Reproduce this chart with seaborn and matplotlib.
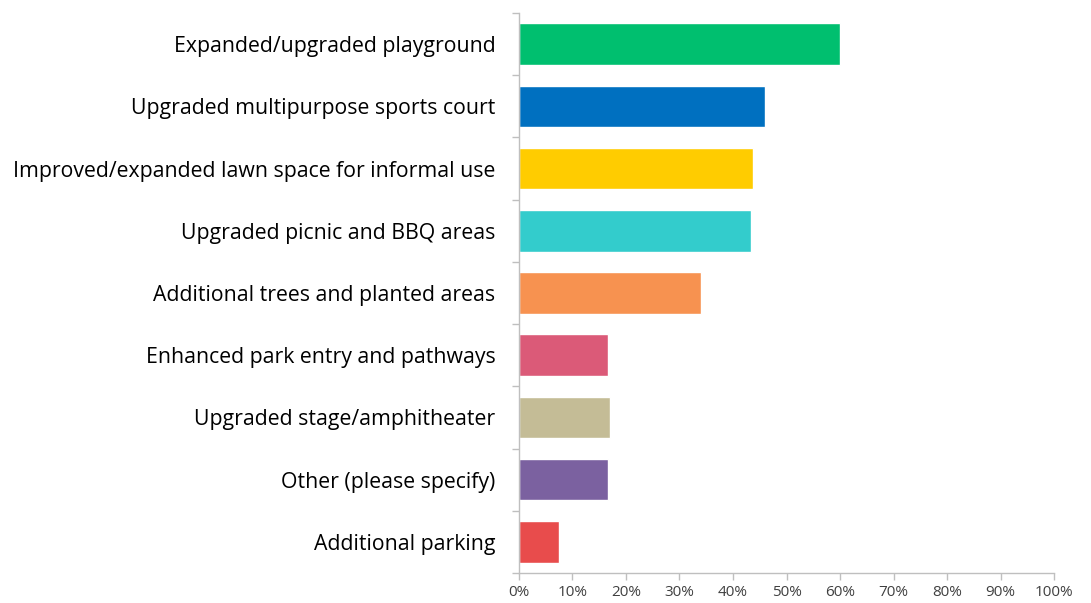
import matplotlib
matplotlib.use("Agg")
import matplotlib.pyplot as plt
from matplotlib.ticker import FixedLocator, PercentFormatter
import seaborn as sns
import pandas as pd

categories = [
    "Expanded/upgraded playground",
    "Upgraded multipurpose sports court",
    "Improved/expanded lawn space for informal use",
    "Upgraded picnic and BBQ areas",
    "Additional trees and planted areas",
    "Enhanced park entry and pathways",
    "Upgraded stage/amphitheater",
    "Other (please specify)",
    "Additional parking",
]
shares = [60.0, 46.0, 43.8, 43.3, 34.1, 16.6, 17.0, 16.6, 7.4]
colors = ["#00BF6F", "#0070C0", "#FFCC00", "#33CCCC", "#F79250",
          "#DB5A78", "#C4BC96", "#7B61A0", "#E84C4C"]
x_ticks = list(range(0, 101, 10))

df = pd.DataFrame({"option": categories, "share": shares})

sns.set_theme(style="white")
plt.rcParams["font.family"] = ["Open Sans", "DejaVu Sans"]

fig = plt.figure(figsize=(10.91, 6.03), dpi=100)
ax = fig.add_axes([0.4757, 0.0498, 0.4904, 0.9286])

sns.barplot(data=df, y="option", x="share", hue="option", palette=colors,
            order=categories, hue_order=categories, width=0.67,
            legend=False, ax=ax, saturation=1)

ax.set_xlim(0, 100)
ax.set_ylim(len(categories) - 0.5, -0.5)
ax.set_xlabel("")
ax.set_ylabel("")

ax.set_xticks(x_ticks)
ax.xaxis.set_major_formatter(PercentFormatter(decimals=0))
ax.tick_params(axis="x", which="major", length=5, width=1, color="#BFBFBF",
               labelsize=11, labelcolor="#404040", pad=4, direction="out",
               bottom=True)

ax.yaxis.set_minor_locator(FixedLocator([i - 0.5 for i in range(len(categories) + 1)]))
ax.tick_params(axis="y", which="major", length=0, labelsize=15.3,
               labelcolor="#000000", pad=17)
ax.tick_params(axis="y", which="minor", length=5, width=1, color="#BFBFBF",
               direction="out", left=True)

for side in ["top", "right"]:
    ax.spines[side].set_visible(False)
for side in ["left", "bottom"]:
    ax.spines[side].set_visible(True)
    ax.spines[side].set_color("#BFBFBF")
    ax.spines[side].set_linewidth(1)

fig.savefig("out.png", dpi=100, facecolor="white")
